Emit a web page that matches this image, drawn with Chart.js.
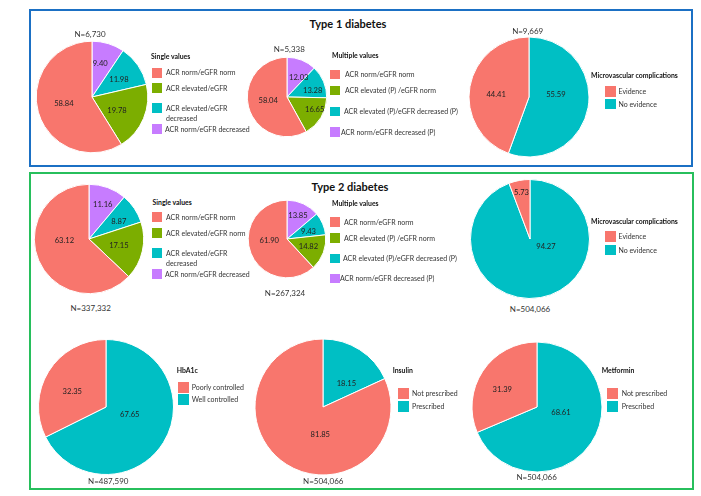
<!DOCTYPE html>
<html>
<head>
<meta charset="utf-8">
<script src="https://cdn.jsdelivr.net/npm/chart.js@4"></script>
<style>
  body { margin: 0; background: #fff; }
  #page { position: relative; width: 701px; height: 496px; overflow: hidden; font-family: Lato, "Open Sans", sans-serif; color: #222; }
  .frame { position: absolute; box-sizing: border-box; }
  .title { position: absolute; z-index: 2; font-weight: bold; font-size: 11px; transform: translate(-50%, -50%); white-space: nowrap; color: #111; }
  .ntext { position: absolute; z-index: 2; font-size: 8px; transform: translate(-50%, -50%); white-space: nowrap; color: #333; }
  .lgtitle { position: absolute; z-index: 2; font-weight: bold; font-size: 6.9px; transform: translateY(-50%); white-space: nowrap; color: #111; }
  .lgbox { position: absolute; z-index: 2; }
  .lgtext { position: absolute; z-index: 2; font-size: 7px; line-height: 10.5px; white-space: pre; color: #333; }
  canvas { position: absolute; z-index: 1; }
</style>
</head>
<body>
<div id="page"></div>
<script>
// colours (ggplot hue palette)
const colors4 = ['#F8766D', '#7CAE00', '#00BFC4', '#C77CFF'];
const colors2 = ['#F8766D', '#00BFC4'];

// categories (legend order)
const singleT1Labels = ['ACR norm/eGFR norm', 'ACR elevated/eGFR', 'ACR elevated/eGFR\ndecreased', 'ACR norm/eGFR decreased'];
const singleT2Labels = ['ACR norm/eGFR norm', 'ACR elevated/eGFR norm', 'ACR elevated/eGFR\ndecreased', 'ACR norm/eGFR decreased'];
const multiLabels = ['ACR norm/eGFR norm', 'ACR elevated (P) /eGFR norm', 'ACR elevated (P)/eGFR decreased (P)', 'ACR norm/eGFR decreased (P)'];
const microLabels = ['Evidence', 'No evidence'];
const hba1cLabels = ['Poorly controlled', 'Well controlled'];
const rxLabels = ['Not prescribed', 'Prescribed'];

// values (%), same order as categories
const t1SingleValues = [58.84, 19.78, 11.98, 9.40];
const t1MultiValues = [58.04, 16.65, 13.28, 12.03];
const t1MicroValues = [44.41, 55.59];
const t2SingleValues = [63.12, 17.15, 8.87, 11.16];
const t2MultiValues = [61.90, 14.82, 9.43, 13.85];
const t2MicroValues = [5.73, 94.27];
const hba1cValues = [32.35, 67.65];
const insulinValues = [81.85, 18.15];
const metforminValues = [31.39, 68.61];

// sample sizes
const sampleSizes = ['N=6,730', 'N=5,338', 'N=9,669', 'N=337,332', 'N=267,324', 'N=504,066', 'N=487,590', 'N=504,066', 'N=504,066'];

const page = document.getElementById('page');

function el(cls, css, text) {
    var d = document.createElement('div');
    d.className = cls;
    Object.assign(d.style, css);
    if (text !== undefined) d.textContent = text;
    page.appendChild(d);
    return d;
}

// frames + section titles
el('frame', {left: '29px', top: '9px', width: '664px', height: '158px', border: '2px solid #1b70c4'});
el('frame', {left: '29px', top: '172px', width: '665px', height: '318px', border: '2px solid #27bf5c'});
el('title', {left: '348px', top: '23px'}, 'Type 1 diabetes');
el('title', {left: '350px', top: '186px'}, 'Type 2 diabetes');

// pie label drawing
const sliceLabels = {
    id: 'sliceLabels',
    afterDatasetsDraw(chart, args, opts) {
        const ctx = chart.ctx;
        const arcs = chart.getDatasetMeta(0).data;
        const vals = chart.data.datasets[0].data;
        ctx.save();
        ctx.font = '7.6px Lato, "Open Sans", sans-serif';
        ctx.fillStyle = '#222';
        ctx.textAlign = 'center';
        ctx.textBaseline = 'middle';
        arcs.forEach((arc, i) => {
            const mid = (arc.startAngle + arc.endAngle) / 2 + opts.shift[i] * Math.PI / 180;
            const rr = arc.outerRadius * opts.frac[i];
            ctx.fillText(vals[i].toFixed(2), arc.x + Math.cos(mid) * rr, arc.y + Math.sin(mid) * rr);
        });
        ctx.restore();
    }
};

function makePie(p) {
    const size = Math.ceil(p.r) * 2 + 8;
    const cv = document.createElement('canvas');
    cv.width = size; cv.height = size;
    cv.style.width = size + 'px'; cv.style.height = size + 'px';
    cv.style.left = (p.cx - size / 2) + 'px';
    cv.style.top = (p.cy - size / 2) + 'px';
    page.appendChild(cv);
    // slices drawn clockwise from 12 o'clock in reverse legend order
    const vals = p.values.slice().reverse();
    const cols = p.colors.slice().reverse();
    new Chart(cv, {
        type: 'pie',
        data: {
            labels: p.labels.slice().reverse(),
            datasets: [{ data: vals, backgroundColor: cols, borderColor: '#fff', borderWidth: 1, radius: p.r }]
        },
        options: {
            responsive: false,
            animation: false,
            events: [],
            layout: { padding: 0 },
            plugins: {
                legend: { display: false },
                tooltip: { enabled: false },
                sliceLabels: { frac: p.frac.slice().reverse(), shift: p.shift.slice().reverse() }
            }
        },
        plugins: [sliceLabels]
    });
    el('ntext', {left: p.nx + 'px', top: p.ny + 'px'}, p.n);

    // legend
    const L = p.legend;
    el('lgtitle', {left: L.x + 'px', top: L.ty + 'px'}, p.title);
    p.labels.forEach((lab, i) => {
        const y = L.ys[i];
        el('lgbox', {left: L.bx + 'px', top: (y - L.bs / 2) + 'px', width: L.bs + 'px', height: L.bs + 'px', background: p.colors[i]});
        const tx = (L.txs ? L.txs[i] : L.tx);
        el('lgtext', {left: tx + 'px', top: (y - 5.5) + 'px'}, lab);
    });
}

makePie({ cx: 91.7, cy: 96.8, r: 55.8, values: t1SingleValues, colors: colors4, labels: singleT1Labels,
    frac: [0.52, 0.51, 0.58, 0.61], shift: [2, 6, 1, -3], n: sampleSizes[0], nx: 90, ny: 33.5,
    title: 'Single values', legend: { x: 151, ty: 56, bx: 152, bs: 10, tx: 166, txs: [166, 166, 166, 165], ys: [72.5, 88, 108, 129] } });

makePie({ cx: 287.3, cy: 97, r: 39.7, values: t1MultiValues, colors: colors4, labels: multiLabels,
    frac: [0.48, 0.77, 0.67, 0.58], shift: [5, -6, 8, 9], n: sampleSizes[1], nx: 289.3, ny: 49.3,
    title: 'Multiple values', legend: { x: 332, ty: 55, bx: 330, bs: 9.5, tx: 345, txs: [345, 345, 344, 341], ys: [74.5, 90.5, 111.5, 132] } });

makePie({ cx: 529.3, cy: 96.7, r: 60, values: t1MicroValues, colors: colors2, labels: microLabels,
    frac: [0.55, 0.45], shift: [-5, -16], n: sampleSizes[2], nx: 527.7, ny: 30.7,
    title: 'Microvascular complications', legend: { x: 591, ty: 75, bx: 605, bs: 10.5, tx: 618.5, ys: [91.5, 104.2] } });

makePie({ cx: 89, cy: 238.7, r: 54.7, values: t2SingleValues, colors: colors4, labels: singleT2Labels,
    frac: [0.45, 0.56, 0.63, 0.67], shift: [20, 0, 4, 2], n: sampleSizes[3], nx: 90.7, ny: 308.3,
    title: 'Single values', legend: { x: 152.5, ty: 202, bx: 152, bs: 10, tx: 166, txs: [166, 166, 166, 165], ys: [217, 233, 253, 274] } });

makePie({ cx: 286.7, cy: 238.8, r: 38.8, values: t2MultiValues, colors: colors4, labels: multiLabels,
    frac: [0.46, 0.59, 0.59, 0.67], shift: [15, 0, 3, 0], n: sampleSizes[4], nx: 285, ny: 292.7,
    title: 'Multiple values', legend: { x: 332, ty: 203, bx: 330, bs: 9.5, tx: 344, txs: [344, 344, 343, 340], ys: [222, 238, 258.5, 278.5] } });

makePie({ cx: 530, cy: 238.5, r: 59.5, values: t2MicroValues, colors: colors2, labels: microLabels,
    frac: [0.8, 0.3], shift: [0, -53], n: sampleSizes[5], nx: 530, ny: 309,
    title: 'Microvascular complications', legend: { x: 591, ty: 221, bx: 605, bs: 10.5, tx: 618.5, ys: [236.7, 250] } });

makePie({ cx: 105.5, cy: 406.5, r: 67.5, values: hba1cValues, colors: colors2, labels: hba1cLabels,
    frac: [0.55, 0.37], shift: [-7, -14], n: sampleSizes[6], nx: 108.3, ny: 481,
    title: 'HbA1c', legend: { x: 176.7, ty: 370, bx: 178, bs: 10.5, tx: 191.7, ys: [387.5, 399.7] } });

makePie({ cx: 323.3, cy: 406.7, r: 68, values: insulinValues, colors: colors2, labels: rxLabels,
    frac: [0.4, 0.49], shift: [-27, 12], n: sampleSizes[7], nx: 323.3, ny: 481,
    title: 'Insulin', legend: { x: 392.7, ty: 370, bx: 398.3, bs: 10.5, tx: 412, ys: [393.3, 406.7] } });

makePie({ cx: 536.7, cy: 406.7, r: 65, values: metforminValues, colors: colors2, labels: rxLabels,
    frac: [0.6, 0.38], shift: [-6.5, -19.5], n: sampleSizes[8], nx: 536.7, ny: 477.3,
    title: 'Metformin', legend: { x: 601.7, ty: 370, bx: 607.3, bs: 10.5, tx: 621.7, ys: [393.3, 406.7] } });
</script>
</body>
</html>
